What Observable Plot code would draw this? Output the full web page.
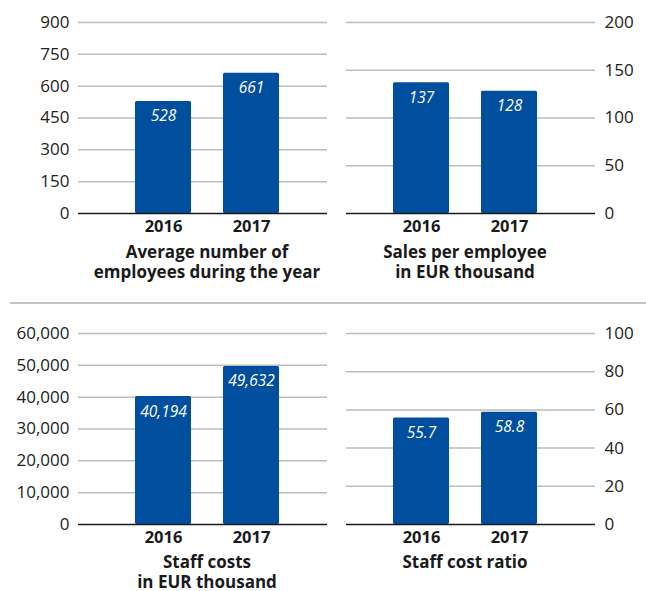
<!DOCTYPE html>
<html>
<head>
<meta charset="utf-8">
<script src="https://cdn.jsdelivr.net/npm/d3@7"></script>
<script src="https://cdn.jsdelivr.net/npm/@observablehq/plot@0.6"></script>
<style>
  html, body { margin: 0; padding: 0; background: #fff; }
  body { width: 646px; height: 591px; position: relative; overflow: hidden; font-family: "Open Sans", sans-serif; color: #222; }
  .panel { position: absolute; }
  .title { position: absolute; text-align: center; font-weight: bold; font-size: 17px; line-height: 20px; color: #1a1a1a; white-space: nowrap; }
  .sep { position: absolute; left: 10px; top: 302px; width: 636px; height: 2px; background: #c4c4c4; }
</style>
</head>
<body>
<div class="sep"></div>
<script>
const years = ["2016", "2017"];
const employees = [528, 661];
const salesPerEmployee = [137, 128];
const staffCosts = [40194, 49632];
const staffCostRatio = [55.7, 58.8];

const employeesTicks = [0, 150, 300, 450, 600, 750, 900];
const salesTicks = [0, 50, 100, 150, 200];
const staffCostsTicks = [0, 10000, 20000, 30000, 40000, 50000, 60000];
const ratioTicks = [0, 20, 40, 60, 80, 100];

const titles = [
  ["Average number of", "employees during the year"],
  ["Sales per employee", "in EUR thousand"],
  ["Staff costs", "in EUR thousand"],
  ["Staff cost ratio"]
];

const BLUE = "#004f9f";

function panel({values, ticks, side, left, top, width, marginLeft, marginRight, marginTop, xRange, format, labelFormat, title, titleTop}) {
  const data = years.map((y, i) => ({year: y, value: values[i]}));
  const plotHeight = 191;
  const marginBottom = 30;
  const chart = Plot.plot({
    width,
    height: marginTop + plotHeight + marginBottom,
    marginTop, marginBottom, marginLeft, marginRight,
    style: {fontFamily: "Open Sans", fontSize: "16px", color: "#222", background: "transparent", overflow: "visible"},
    x: {type: "band", domain: years, range: xRange, paddingInner: 0.364, paddingOuter: 0.182, axis: null},
    y: {domain: [ticks[0], ticks[ticks.length - 1]], axis: null},
    marks: [
      Plot.ruleY(ticks.slice(1), {stroke: "#bdbdbd", strokeWidth: 1.5}),
      Plot.barY(data, {x: "year", y: "value", fill: BLUE, rx: 1.5}),
      Plot.ruleY([0], {stroke: "#1a1a1a", strokeWidth: 1.5}),
      Plot.text(data, {x: "year", y: "value", text: d => labelFormat(d.value), dy: 15, fill: "white", fontStyle: "italic", fontSize: 15.5, fontFamily: "Open Sans"}),
      Plot.axisY({anchor: side, ticks, tickSize: 0, tickPadding: 9, tickFormat: format, fontSize: 17, fill: "#222", label: null}),
      Plot.axisX({anchor: "bottom", tickSize: 0, tickPadding: 7, fontSize: 16.5, fontWeight: "bold", fill: "#1a1a1a", label: null})
    ]
  });
  const wrap = document.createElement("div");
  wrap.className = "panel";
  wrap.style.left = left + "px";
  wrap.style.top = top + "px";
  wrap.appendChild(chart);
  document.body.appendChild(wrap);
  const cx = left + (xRange[0] + xRange[1]) / 2;
  const t = document.createElement("div");
  t.className = "title";
  t.style.left = (cx - 150) + "px";
  t.style.width = "300px";
  t.style.top = titleTop + "px";
  t.innerHTML = title.join("<br>");
  document.body.appendChild(t);
}

const fmt = d3.format(",");
panel({values: employees, ticks: employeesTicks, side: "left", left: 0, top: 0, width: 330, marginLeft: 78, marginRight: 3, marginTop: 22, xRange: [119, 295], format: fmt, labelFormat: fmt, title: titles[0], titleTop: 242});
panel({values: salesPerEmployee, ticks: salesTicks, side: "right", left: 330, top: 0, width: 316, marginLeft: 16, marginRight: 51, marginTop: 22, xRange: [46.5, 223.5], format: fmt, labelFormat: fmt, title: titles[1], titleTop: 242});
panel({values: staffCosts, ticks: staffCostsTicks, side: "left", left: 0, top: 305, width: 330, marginLeft: 78, marginRight: 3, marginTop: 28, xRange: [119, 295], format: fmt, labelFormat: fmt, title: titles[2], titleTop: 552});
panel({values: staffCostRatio, ticks: ratioTicks, side: "right", left: 330, top: 305, width: 316, marginLeft: 16, marginRight: 51, marginTop: 28, xRange: [46.5, 223.5], format: fmt, labelFormat: d3.format(".1f"), title: titles[3], titleTop: 552});
</script>
</body>
</html>
